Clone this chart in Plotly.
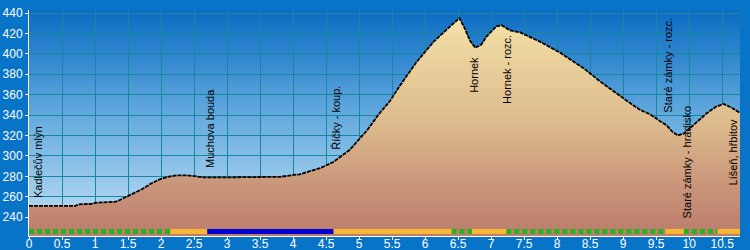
import base64
import plotly.graph_objects as go

# ---- data -------------------------------------------------------------
km = [0, 0.7, 0.75, 0.95, 1.0, 1.3, 1.35, 1.48, 1.6, 1.73, 1.85, 1.98, 2.1,
      2.24, 2.39, 2.54, 2.65, 3.0, 3.4, 3.8, 4.1, 4.41, 4.61, 4.86, 5.12,
      5.3, 5.47, 5.62, 5.87, 6.13, 6.38, 6.52, 6.6, 6.68, 6.76, 6.85, 6.93,
      7.08, 7.16, 7.29, 7.44, 7.74, 8.05, 8.4, 8.65, 8.9, 9.1, 9.26, 9.4,
      9.56, 9.66, 9.74, 9.83, 9.92, 10.06, 10.27, 10.4, 10.52, 10.65, 10.77]
elev = [251, 251, 252.5, 253, 254, 255, 256, 260, 264, 268, 273, 277, 279.5,
        281, 281, 279.5, 279, 279, 279, 279.5, 282, 288, 294, 306, 325,
        341, 354, 369, 392, 412, 427, 435, 425, 413, 406, 409, 417,
        427, 428, 423, 421, 412, 401, 386, 373, 361, 352, 345, 341,
        334, 330, 324, 320, 322, 330, 342, 348, 351, 347, 342]

place_names = ["Kadlečův mlýn", "Muchova bouda", "Říčky - koup.", "Hornek",
               "Hornek - rozc.", "Staré zámky - rozc.", "Staré zámky - hradisko",
               "Líšeň, hřbitov"]
place_km = [0.14, 2.73, 4.65, 6.74, 7.24, 9.68, 9.97, 10.67]
place_elev = [257, 286, 304, 399, 421, 340, 237, 269]
place_side = ["above", "above", "above", "below", "below", "above", "above", "above"]

surface_breaks = [0, 2.14, 2.70, 4.61, 6.40, 6.71, 7.23, 9.64, 9.92, 10.43, 10.77]
surface_types = ["path", "road", "asphalt", "road", "path", "road", "path",
                 "road", "path", "road"]

x_ticks = [i * 0.5 for i in range(22)]
y_ticks = list(range(240, 441, 20))

# ---- styling ----------------------------------------------------------
X_RANGE = [0, 10.77]
Y_RANGE = [221.5, 443]
BAR_LEVEL = 226
OUTER_BG = "#0874c8"
GRID = "#17889f"
surface_style = {
    "path": dict(color="#22b41e", width=5, dash="5px,3px"),
    "road": dict(color="#f7b733", width=5, dash="solid"),
    "asphalt": dict(color="#0000d2", width=5, dash="solid"),
}

svg = ('<svg xmlns="http://www.w3.org/2000/svg" width="100" height="100" '
       'viewBox="0 0 100 100" preserveAspectRatio="none">'
       '<defs><linearGradient id="g" x1="0" y1="0" x2="0" y2="1">'
       '<stop offset="0" stop-color="#0a6cc2"/>'
       '<stop offset="0.5" stop-color="#6aaee0"/>'
       '<stop offset="1" stop-color="#c6e2f5"/>'
       '</linearGradient></defs>'
       '<rect x="0" y="0" width="100" height="100" fill="url(#g)"/></svg>')
svg_uri = "data:image/svg+xml;base64," + base64.b64encode(svg.encode()).decode()

fig = go.Figure()

fig.add_trace(go.Scatter(
    x=km, y=elev, mode="lines", fill="tozeroy",
    line=dict(color="black", width=1.8, dash="4px,1px"),
    fillgradient=dict(type="vertical", start=Y_RANGE[0], stop=max(elev),
                      colorscale=[[0, "#bc7f6f"], [0.06, "#bf8270"],
                                  [0.28, "#cc9b7d"], [0.5, "#dcb98c"],
                                  [0.9, "#eed8a0"], [1, "#f5e4a9"]]),
    hoverinfo="skip", showlegend=False))

for kind, style in surface_style.items():
    xs, ys = [], []
    for i, t in enumerate(surface_types):
        if t == kind:
            xs += [surface_breaks[i], surface_breaks[i + 1], None]
            ys += [BAR_LEVEL, BAR_LEVEL, None]
    fig.add_trace(go.Scatter(x=xs, y=ys, mode="lines", line=style,
                             hoverinfo="skip", showlegend=False))

for name, xk, ye, side in zip(place_names, place_km, place_elev, place_side):
    fig.add_annotation(x=xk, y=ye, text=name, textangle=-90, showarrow=False,
                       xanchor="center",
                       yanchor="bottom" if side == "above" else "top",
                       font=dict(family="Liberation Sans, Arial", size=11,
                                 color="black"))

fig.update_layout(
    width=750, height=250,
    margin=dict(l=29, r=10, t=10, b=14, autoexpand=False),
    paper_bgcolor=OUTER_BG,
    plot_bgcolor="rgba(0,0,0,0)",
    images=[dict(source=svg_uri, xref="paper", yref="paper", x=0, y=1,
                 sizex=1, sizey=1, xanchor="left", yanchor="top",
                 sizing="stretch", layer="below")],
    font=dict(family="Liberation Sans, Arial", size=12, color="white"),
    xaxis=dict(range=X_RANGE, tickvals=x_ticks, showgrid=True, gridcolor=GRID,
               gridwidth=1, zeroline=False, showline=True, linecolor="white",
               linewidth=1, ticks="outside", ticklen=3, tickcolor="white",
               ticklabelstandoff=-6,
               automargin=False, tickfont=dict(size=12, color="white")),
    yaxis=dict(range=Y_RANGE, tickvals=y_ticks, showgrid=True, gridcolor=GRID,
               gridwidth=1, zeroline=False, showline=True, linecolor="white",
               linewidth=1, ticks="outside", ticklen=3, tickcolor="white",
               automargin=False, tickfont=dict(size=12, color="white")),
)

fig.write_html("out.html")
